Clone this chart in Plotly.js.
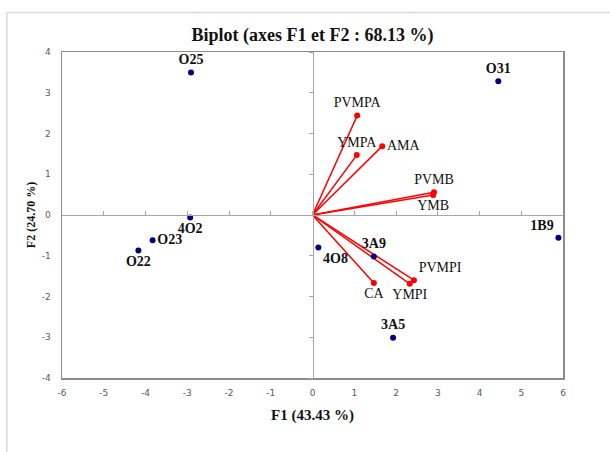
<!DOCTYPE html>
<html>
<head>
<meta charset="utf-8">
<script src="https://cdn.plot.ly/plotly-3.0.1.min.js"></script>
<style>html,body{margin:0;padding:0;background:#fff;}#chart{width:610px;height:452px;}</style>
</head>
<body>
<div id="chart"></div>
<script>
// Observations (F1, F2)
const obsNames = ["O25", "O31", "4O2", "O23", "O22", "4O8", "3A9", "1B9", "3A5"];
const obsF1 = [-2.91, 4.45, -2.93, -3.83, -4.17, 0.14, 1.47, 5.89, 1.93];
const obsF2 = [3.50, 3.28, -0.06, -0.62, -0.87, -0.80, -1.02, -0.56, -3.01];

// Variables (F1, F2)
const varNames = ["PVMPA", "YMPA", "AMA", "PVMB", "YMB", "PVMPI", "YMPI", "CA"];
const varF1 = [1.07, 1.06, 1.67, 2.91, 2.89, 2.43, 2.33, 1.47];
const varF2 = [2.44, 1.47, 1.69, 0.56, 0.49, -1.60, -1.69, -1.67];

const xTicks = [-6, -5, -4, -3, -2, -1, 0, 1, 2, 3, 4, 5, 6];
const yTicks = [-4, -3, -2, -1, 0, 1, 2, 3, 4];

// label placement (style)
const obsTextPos = ["top center", "top center", "bottom center", "middle right", "bottom center", "bottom right", "top center", "top left", "top center"];
const varTextPos = ["top center", "top center", "middle right", "top center", "bottom center", "top right", "bottom center", "bottom center"];

const serif = "'Liberation Serif', 'Times New Roman', serif";
const traces = [];

// vector lines from origin
varNames.forEach((n, i) => {
  traces.push({
    x: [0, varF1[i]], y: [0, varF2[i]],
    mode: "lines", type: "scatter",
    line: {color: "#ff0000", width: 1.5},
    hoverinfo: "skip", showlegend: false
  });
});

traces.push({
  x: varF1, y: varF2, text: varNames,
  mode: "markers+text", type: "scatter",
  marker: {color: "#ff0000", size: 6},
  textposition: varTextPos,
  textfont: {family: serif, size: 14, color: "#111"},
  cliponaxis: false, showlegend: false
});

traces.push({
  x: obsF1, y: obsF2, text: obsNames,
  mode: "markers+text", type: "scatter",
  marker: {color: "#000080", size: 6},
  textposition: obsTextPos,
  textfont: {family: serif, size: 14, color: "#111"},
  texttemplate: "<b>%{text}</b>",
  cliponaxis: false, showlegend: false
});

// invisible trace to carry the zero-crossing axes
traces.push({x: [], y: [], xaxis: "x2", yaxis: "y2", type: "scatter", mode: "markers", showlegend: false});

const tickFont = {family: "'DejaVu Sans', 'Open Sans', sans-serif", size: 9, color: "#595959"};

const layout = {
  width: 610, height: 452,
  margin: {l: 62, r: 47, t: 52, b: 74},
  paper_bgcolor: "#fff", plot_bgcolor: "#fff",
  showlegend: false,
  title: {
    text: "<b>Biplot (axes F1 et F2 : 68.13 %)</b>",
    font: {family: serif, size: 18, color: "#111"},
    x: 0.5, xref: "paper", y: 0.924, yref: "container", xanchor: "center", yanchor: "middle"
  },
  xaxis: {
    range: [-6, 6], tickvals: xTicks, ticktext: xTicks.map(String),
    showgrid: false, zeroline: false,
    showline: true, mirror: true, linecolor: "#8c8c8c", linewidth: 1.5,
    ticks: "", tickfont: tickFont, ticklabelstandoff: 6,
    title: {text: "<b>F1 (43.43 %)</b>", font: {family: serif, size: 15, color: "#111"}, standoff: 12},
    fixedrange: true
  },
  yaxis: {
    range: [-4, 4], tickvals: yTicks, ticktext: yTicks.map(String),
    showgrid: false, zeroline: false,
    showline: true, mirror: true, linecolor: "#8c8c8c", linewidth: 1.5,
    ticks: "", tickfont: tickFont, ticklabelstandoff: 8,
    title: {text: "<b>F2 (24.70 %)</b>", font: {family: serif, size: 12, color: "#111"}, standoff: 3},
    fixedrange: true
  },
  xaxis2: {
    overlaying: "x", anchor: "free", position: 0.5, range: [-6, 6],
    tickvals: xTicks, showticklabels: false, ticks: "inside", ticklen: 4, tickcolor: "#a6a6a6",
    showline: true, linecolor: "#a6a6a6", linewidth: 1, showgrid: false, zeroline: false
  },
  yaxis2: {
    overlaying: "y", anchor: "free", position: 0.5, range: [-4, 4],
    tickvals: yTicks, showticklabels: false, ticks: "outside", ticklen: 4, tickcolor: "#a6a6a6",
    showline: true, linecolor: "#a6a6a6", linewidth: 1, showgrid: false, zeroline: false
  },
  shapes: [
    {type: "line", xref: "paper", yref: "paper", x0: -0.11, x1: -0.11, y0: 1.121, y1: -0.23, line: {color: "#d9d9d9", width: 1.5}},
    {type: "line", xref: "paper", yref: "paper", x0: -0.11, x1: 1.1, y0: 1.121, y1: 1.121, line: {color: "#d9d9d9", width: 1.5}}
  ]
};

Plotly.newPlot("chart", traces, layout, {displayModeBar: false, staticPlot: true});
</script>
</body>
</html>
